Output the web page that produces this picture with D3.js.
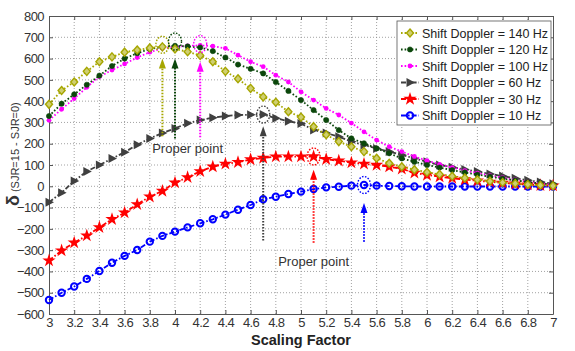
<!DOCTYPE html>
<html><head><meta charset="utf-8">
<script src="https://cdn.jsdelivr.net/npm/d3@7/dist/d3.min.js"></script>
<style>body{margin:0;background:#fff}svg{display:block;font-family:"Liberation Sans",Arial,sans-serif}</style>
</head><body><svg id="c" width="575" height="351"></svg>
<script>
const xs = d3.range(41).map(i => +(3 + i*0.1).toFixed(1));
const s140 = [385,450,490,540,585,608,630,640,650,655,645,632,615,585,540,505,460,420,395,350,325,280,242,210,186,163,132,108,92,78,66,56,47,39,31,24,18,13,8,5,2];
const s120 = [330,388,432,477,520,565,600,625,645,655,660,657,652,635,605,572,552,530,490,448,405,358,311,264,225,202,178,155,131,115,100,88,76,65,55,45,36,28,20,13,8];
const s100 = [310,362,412,465,515,546,575,605,630,648,655,660,662,658,648,616,585,562,522,490,444,405,366,335,297,256,217,186,163,140,120,103,88,74,62,50,40,31,22,14,8];
const s60  = [-75,-30,25,70,100,130,160,195,225,250,272,296,311,322,330,335,336,337,320,305,295,265,250,233,210,194,178,163,147,131,115,100,90,79,69,58,48,38,28,20,12];
const s30  = [-349,-302,-265,-232,-193,-155,-124,-85,-49,-22,17,42,70,92,105,113,126,133,139,139,139,140,127,120,111,105,100,92,82,63,53,45,38,32,26,21,16,12,8,5,3];
const s10  = [-534,-500,-471,-435,-398,-359,-327,-299,-260,-233,-213,-193,-174,-155,-133,-110,-88,-61,-49,-36,-25,-13,-5,-2,3,6,3,1,0,-1,-1,-1,-1,-1,-1,-1,-1,-1,-1,-1,-1];
const seriesNames = ["Shift Doppler = 140 Hz","Shift Doppler = 120 Hz","Shift Doppler = 100 Hz","Shift Doppler = 60 Hz","Shift Doppler = 30 Hz","Shift Doppler = 10 Hz"];
// proper points: x, circle value, arrow tip value, arrow bottom value
const properX   = [3.9, 4.0, 4.2, 4.7, 5.1, 5.5];
const properY   = [665, 680, 668, 337, 140, 6];
const arrowTop  = [600, 600, 585, 282, 78, -78];
const arrowBot  = [235, 225, 230, -255, -265, -260];
const xTicks = d3.range(21).map(i => +(3 + i*0.2).toFixed(1));
const yTicks = d3.range(-600, 801, 100);
const labels = [{t:"Proper point", x:4.1, v:158},{t:"Proper point", x:5.1, v:-375}];

const colors = ["#a6a600","#0b470b","#ff00ff","#404040","#ff0000","#0000ff"];
const dashes = ["1.6,2","1.6,2","1.6,2","5,2,1.6,2","5,2,1.6,2","5,2,1.6,2"];
const markers = ["diamond","dot","mdot","tri","star","circle"];
const data = [s140,s120,s100,s60,s30,s10];

const svg = d3.select("#c");
const L=49,R=553,T=16,B=314;
const x = d3.scaleLinear().domain([3,7]).range([L,R]);
const y = d3.scaleLinear().domain([-600,800]).range([B,T]);

// grid
const g = svg.append("g");
g.selectAll(".gx").data(xTicks.slice(1,-1)).join("line").attr("x1",d=>x(d)).attr("x2",d=>x(d)).attr("y1",T).attr("y2",B)
 .attr("stroke","#8a8a8a").attr("stroke-width",0.8).attr("stroke-dasharray","1,2");
g.selectAll(".gy").data(yTicks.slice(1,-1)).join("line").attr("y1",d=>y(d)).attr("y2",d=>y(d)).attr("x1",L).attr("x2",R)
 .attr("stroke","#8a8a8a").attr("stroke-width",0.8).attr("stroke-dasharray","1,2");

// axes
const axB = svg.append("g").attr("transform",`translate(0,${B})`).call(d3.axisBottom(x).tickValues(xTicks).tickFormat(d3.format("~g")).tickSizeInner(-4).tickSizeOuter(0).tickPadding(4));
const axT = svg.append("g").attr("transform",`translate(0,${T})`).call(d3.axisTop(x).tickValues(xTicks).tickFormat("").tickSizeInner(-4).tickSizeOuter(0));
const axL = svg.append("g").attr("transform",`translate(${L},0)`).call(d3.axisLeft(y).tickValues(yTicks).tickSizeInner(-4).tickSizeOuter(0).tickPadding(5));
const axR = svg.append("g").attr("transform",`translate(${R},0)`).call(d3.axisRight(y).tickValues(yTicks).tickFormat("").tickSizeInner(-4).tickSizeOuter(0));
[axB,axT,axL,axR].forEach(a=>{a.select(".domain").attr("stroke","#555");a.selectAll(".tick line").attr("stroke","#555");
 a.selectAll("text").attr("fill","#333").attr("font-size",12.5).attr("font-family","'Liberation Sans',Arial,sans-serif");});
axL.selectAll("text").attr("font-size",13).attr("letter-spacing",-0.6);
axB.selectAll("text").attr("font-size",13).attr("letter-spacing",-0.6);

// axis labels
svg.append("text").attr("x",(L+R)/2).attr("y",345).attr("text-anchor","middle").attr("font-size",14.5).attr("font-weight","600").attr("fill","#222").text("Scaling Factor");
const yl = svg.append("text").attr("transform","translate(19,206) rotate(-90)").attr("fill","#333");
yl.append("tspan").attr("font-size",18).attr("font-weight","bold").text("δ");
yl.append("tspan").attr("font-size",11).attr("dx",3).text("(SJR=15 - SJR=0)");

// marker
function drawMarker(sel, type, color){
  if(type==="diamond") sel.append("path").attr("d","M0,-4L3.5,0L0,4L-3.5,0Z").attr("fill","#cfcf70").attr("stroke",color).attr("stroke-width",1.4);
  else if(type==="dot") sel.append("circle").attr("r",2.6).attr("fill",color).attr("stroke",color).attr("stroke-width",0.6);
  else if(type==="mdot") sel.append("circle").attr("r",2.4).attr("fill",color);
  else if(type==="tri") sel.append("path").attr("d","M-3.5,-4.5L5,0L-3.5,4.5Z").attr("fill",color);
  else if(type==="star") sel.append("path").attr("d",d3.symbol(d3.symbolStar,55)()).attr("fill",color);
  else if(type==="circle") sel.append("circle").attr("r",3.2).attr("fill","none").attr("stroke",color).attr("stroke-width",2);
}

const line = d3.line().x((d,i)=>x(xs[i])).y(d=>y(d));
for(let k=data.length-1;k>=0;k--){
  const sg = svg.append("g");
  sg.append("path").attr("d",line(data[k])).attr("fill","none").attr("stroke",colors[k]).attr("stroke-width",1.8).attr("stroke-dasharray",dashes[k]);
  data[k].forEach((v,i)=>{ drawMarker(sg.append("g").attr("transform",`translate(${x(xs[i])},${y(v)})`), markers[k], colors[k]); });
}
// proper point arrows and circles
for(let k=0;k<data.length;k++){
  const px = x(properX[k]);
  svg.append("line").attr("x1",px).attr("x2",px).attr("y1",y(arrowBot[k])).attr("y2",y(arrowTop[k])+8)
    .attr("stroke",colors[k]).attr("stroke-width",2).attr("stroke-dasharray","1.5,1.5");
  const ty = y(arrowTop[k]);
  svg.append("path").attr("d",`M${px},${ty}L${px+3.5},${ty+10}L${px-3.5},${ty+10}Z`).attr("fill",colors[k]);
  svg.append("ellipse").attr("cx",px).attr("cy",y(properY[k])).attr("rx",6.5).attr("ry",8.5)
    .attr("fill","none").attr("stroke",colors[k]).attr("stroke-width",1.4).attr("stroke-dasharray","1.5,1.5");
}
labels.forEach(l=>svg.append("text").attr("x",x(l.x)).attr("y",y(l.v)).attr("text-anchor","middle").attr("font-size",13).attr("fill","#333").text(l.t));

// legend
const lg = svg.append("g");
lg.append("rect").attr("x",397).attr("y",21).attr("width",154).attr("height",104).attr("fill","#fff").attr("stroke","#555").attr("stroke-width",0.8);
seriesNames.forEach((n,k)=>{
  const yy = 33 + k*16.5;
  lg.append("line").attr("x1",401).attr("x2",419).attr("y1",yy).attr("y2",yy).attr("stroke",colors[k]).attr("stroke-width",1.8).attr("stroke-dasharray",dashes[k]);
  drawMarker(lg.append("g").attr("transform",`translate(410,${yy})`), markers[k], colors[k]);
  lg.append("text").attr("x",422).attr("y",yy+4.5).attr("font-size",12.5).attr("fill","#222").text(n);
});
</script></body></html>
